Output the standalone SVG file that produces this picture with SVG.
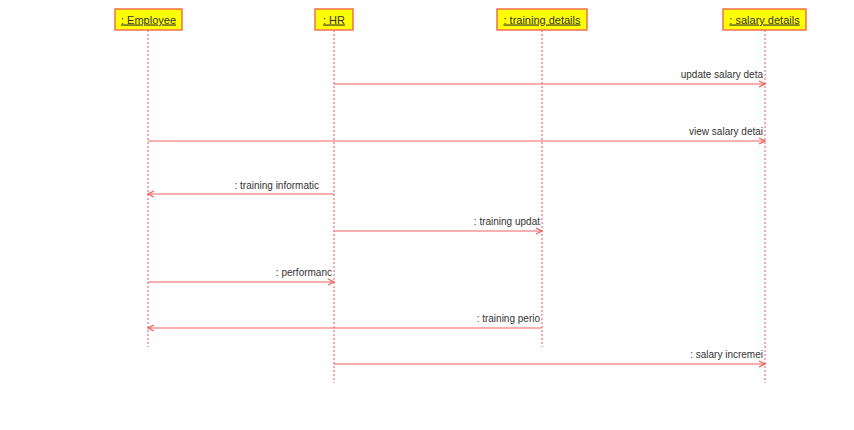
<svg xmlns="http://www.w3.org/2000/svg" width="854" height="430" viewBox="0 0 854 430">
<style>
.box{fill:#ffff00;stroke:#f07050;stroke-width:1.5}
.name{font-family:"Liberation Sans",Arial,sans-serif;font-size:11px;fill:#333;text-anchor:middle;text-decoration:underline}
.life{stroke:#f07080;stroke-width:1.2;stroke-dasharray:2,2;fill:none}
.msg{stroke:#f06060;stroke-width:1.2;fill:none}
.lbl{font-family:"Liberation Sans",Arial,sans-serif;font-size:10px;fill:#333;text-anchor:end}
</style>
<defs>
<marker id="ah" markerWidth="8" markerHeight="8" refX="7" refY="4" orient="auto" markerUnits="userSpaceOnUse">
<path d="M1,1 L7,4 L1,7" fill="none" stroke="#f06060" stroke-width="1.2"/>
</marker>
</defs>
<rect width="854" height="430" fill="#fff"/>
<g id="employee">
<line class="life" x1="148" y1="30" x2="148" y2="347"/>
<rect class="box" x="115" y="9" width="67" height="21"/>
<text class="name" x="148.5" y="23.5">: Employee</text>
</g>
<g id="hr">
<line class="life" x1="334" y1="30" x2="334" y2="383"/>
<rect class="box" x="315" y="9" width="38" height="21"/>
<text class="name" x="334" y="23.5">: HR</text>
</g>
<g id="training">
<line class="life" x1="542" y1="30" x2="542" y2="347"/>
<rect class="box" x="497" y="9" width="90" height="21"/>
<text class="name" x="542" y="23.5">: training details</text>
</g>
<g id="salary">
<line class="life" x1="765" y1="30" x2="765" y2="383"/>
<rect class="box" x="723" y="9" width="83" height="21"/>
<text class="name" x="764.5" y="23.5">: salary details</text>
</g>
<g id="connectors">
<line class="msg" x1="334" y1="84" x2="765" y2="84" marker-end="url(#ah)"/>
<text class="lbl" x="763" y="78">update salary deta</text>
<line class="msg" x1="148" y1="141" x2="765" y2="141" marker-end="url(#ah)"/>
<text class="lbl" x="763" y="135">view salary detai</text>
<line class="msg" x1="334" y1="194" x2="148" y2="194" marker-end="url(#ah)"/>
<text class="lbl" x="319" y="189">: training informatic</text>
<line class="msg" x1="334" y1="231" x2="542" y2="231" marker-end="url(#ah)"/>
<text class="lbl" x="540" y="225">: training updat</text>
<line class="msg" x1="148" y1="282" x2="334" y2="282" marker-end="url(#ah)"/>
<text class="lbl" x="332" y="276">: performanc</text>
<line class="msg" x1="542" y1="328" x2="148" y2="328" marker-end="url(#ah)"/>
<text class="lbl" x="540" y="322">: training perio</text>
<line class="msg" x1="334" y1="364" x2="765" y2="364" marker-end="url(#ah)"/>
<text class="lbl" x="763" y="358">: salary incremei</text>
</g>
</svg>
